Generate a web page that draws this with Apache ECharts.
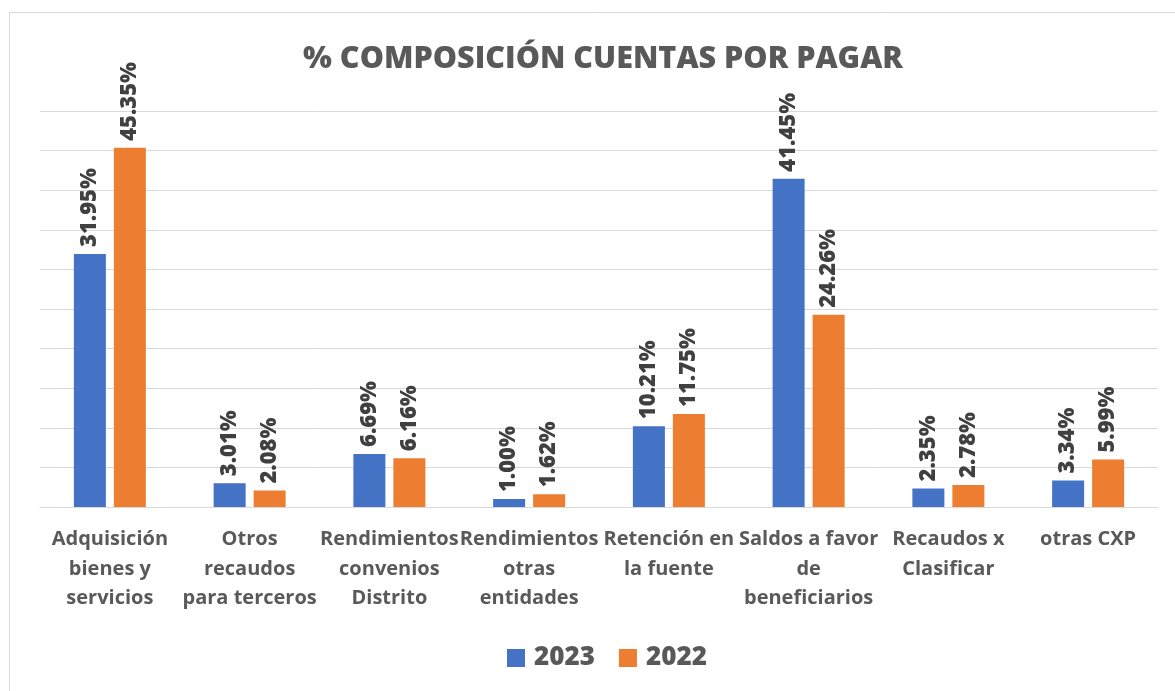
<!DOCTYPE html>
<html>
<head>
<meta charset="utf-8">
<script src="https://cdn.jsdelivr.net/npm/echarts@6/dist/echarts.min.js"></script>
<style>
  html,body{margin:0;padding:0;background:#fff;}
  #chart{width:1175px;height:691px;}
</style>
</head>
<body>
<div id="chart"></div>
<script>
// categorias y valores (%)
const categories = [
  'Adquisición\nbienes y\nservicios',
  'Otros\nrecaudos\npara terceros',
  'Rendimientos\nconvenios\nDistrito',
  'Rendimientos\notras\nentidades',
  'Retención en\nla fuente',
  'Saldos a favor\nde\nbeneficiarios',
  'Recaudos x\nClasificar',
  'otras CXP'
]
const values2023 = [31.95, 3.01, 6.69, 1.00, 10.21, 41.45, 2.35, 3.34]
const values2022 = [45.35, 2.08, 6.16, 1.62, 11.75, 24.26, 2.78, 5.99]

const font = '"Open Sans", sans-serif'
const chart = echarts.init(document.getElementById('chart'))

const labelStyle = {
  show: true,
  position: 'top',
  rotate: 90,
  align: 'left',
  verticalAlign: 'middle',
  distance: 7,
  fontFamily: font,
  fontWeight: 800,
  fontSize: 22,
  color: '#404040',
  formatter: p => p.value.toFixed(2) + '%'
}

chart.setOption({
  backgroundColor: '#fff',
  animation: false,
  graphic: [{
    type: 'rect',
    shape: { x: 9.5, y: 12.5, width: 1200, height: 720 },
    style: { fill: 'none', stroke: '#d9d9d9', lineWidth: 1 }
  }],
  title: {
    text: '% COMPOSICIÓN CUENTAS POR PAGAR',
    left: 598,
    textAlign: 'center',
    top: 39,
    textStyle: { fontFamily: font, fontWeight: 800, fontSize: 30.5, color: '#595959' }
  },
  legend: {
    left: 502,
    top: 640,
    itemWidth: 18,
    itemHeight: 18,
    itemGap: 24,
    icon: 'rect',
    textStyle: { fontFamily: font, fontWeight: 800, fontSize: 26, color: '#595959', padding: [0, 0, 0, 4] },
    data: ['2023', '2022']
  },
  grid: { left: 40, right: 17, top: 111, bottom: 184, containLabel: false },
  xAxis: {
    type: 'category',
    data: categories,
    axisLine: { lineStyle: { color: '#d9d9d9', width: 1 } },
    axisTick: { show: false },
    axisLabel: {
      interval: 0,
      margin: 18,
      fontFamily: font,
      fontSize: 20,
      lineHeight: 29.5,
      color: '#595959',
      fontWeight: 700
    }
  },
  yAxis: {
    type: 'value',
    min: 0,
    max: 50,
    interval: 5,
    axisLabel: { show: false },
    axisLine: { show: false },
    axisTick: { show: false },
    splitLine: { lineStyle: { color: '#d9d9d9', width: 1 } }
  },
  series: [
    {
      name: '2023',
      type: 'bar',
      data: values2023,
      barWidth: 32,
      barGap: '25%',
      itemStyle: { color: '#4472C4' },
      label: labelStyle
    },
    {
      name: '2022',
      type: 'bar',
      data: values2022,
      barWidth: 32,
      barGap: '25%',
      itemStyle: { color: '#ED7D31' },
      label: labelStyle
    }
  ]
})
</script>
</body>
</html>
